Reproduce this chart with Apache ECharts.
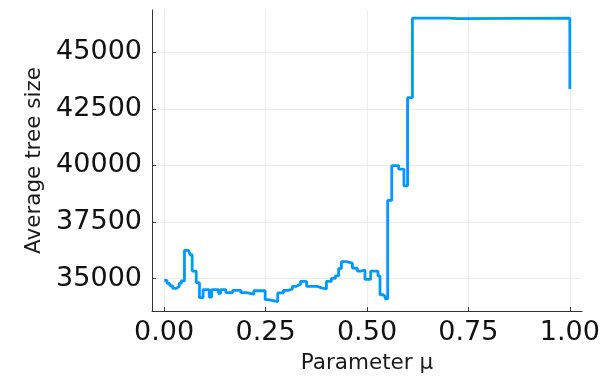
<!DOCTYPE html>
<html>
<head>
<meta charset="utf-8">
<style>
  html, body { margin: 0; padding: 0; background: #fff; }
  #chart { width: 612px; height: 379px; }
</style>
<script src="https://cdn.jsdelivr.net/npm/echarts@6/dist/echarts.min.js"></script>
</head>
<body>
<div id="chart"></div>
<script>
// Breakpoints of the step curve (parameter μ) and average tree size held from each point
const muValues = [
  0.000, 0.007, 0.014, 0.021, 0.030, 0.037, 0.042, 0.050, 0.060, 0.064,
  0.069, 0.079, 0.087, 0.096, 0.111, 0.117, 0.134, 0.139, 0.152, 0.169,
  0.189, 0.203, 0.221, 0.249, 0.257, 0.280, 0.294, 0.307, 0.316, 0.326,
  0.336, 0.351, 0.378, 0.388, 0.400, 0.412, 0.422, 0.430, 0.437, 0.449,
  0.464, 0.476, 0.484, 0.495, 0.509, 0.527, 0.532, 0.540, 0.545, 0.551,
  0.561, 0.578, 0.591, 0.600, 0.612, 0.700, 0.725, 1.000
];
const treeSize = [
  34930, 34795, 34686, 34578, 34665, 34795, 34904, 36254, 36167, 36058,
  35340, 34826, 34164, 34521, 34185, 34521, 34360, 34521, 34390, 34490,
  34390, 34316, 34469, 34077, 33989, 34373, 34490, 34547, 34665, 34752,
  34882, 34665, 34599, 34547, 34882, 35013, 35122, 35449, 35754, 35688,
  35470, 35340, 35383, 34969, 35340, 35122, 34294, 34207, 34111, 38454,
  39991, 39834, 39094, 42992, 46498, 46476, 46498, 43375
];
const xTicks = [0, 0.25, 0.5, 0.75, 1.0];
const yTicks = [35000, 37500, 40000, 42500, 45000];

const seriesData = muValues.map((m, i) => [m, treeSize[i]]);

const chart = echarts.init(document.getElementById('chart'), null, { renderer: 'canvas' });
const font = 'DejaVu Sans';
chart.setOption({
  animation: false,
  backgroundColor: '#ffffff',
  grid: { left: 152, right: 30, top: 10, bottom: 64, containLabel: false },
  xAxis: {
    type: 'value',
    min: -0.03,
    max: 1.03,
    name: 'Parameter μ',
    nameLocation: 'middle',
    nameGap: 41,
    nameTextStyle: { fontFamily: font, fontSize: 21.5, color: '#1a1a1a' },
    axisLine: { show: true, onZero: false, lineStyle: { color: '#333', width: 1 } },
    axisTick: { show: true, inside: true, length: 4, customValues: xTicks, lineStyle: { color: '#333' } },
    axisLabel: {
      customValues: xTicks,
      margin: 8,
      fontFamily: font, fontSize: 27, color: '#111',
      formatter: v => v.toFixed(2)
    },
    splitLine: { show: true, lineStyle: { color: '#ececec', width: 1 } }
  },
  yAxis: {
    type: 'value',
    min: 33576,
    max: 46860,
    name: 'Average tree size',
    nameLocation: 'middle',
    nameGap: 101,
    nameTextStyle: { fontFamily: font, fontSize: 21.5, color: '#1a1a1a' },
    axisLine: { show: true, onZero: false, lineStyle: { color: '#333', width: 1 } },
    axisTick: { show: true, inside: true, length: 4, customValues: yTicks, lineStyle: { color: '#333' } },
    axisLabel: {
      customValues: yTicks,
      margin: 10,
      fontFamily: font, fontSize: 27, color: '#111',
      formatter: v => String(Math.round(v))
    },
    splitLine: { show: true, lineStyle: { color: '#ececec', width: 1 } }
  },
  series: [{
    type: 'line',
    data: seriesData,
    step: 'end',
    showSymbol: false,
    lineStyle: { color: '#009AFA', width: 2.8 },
    itemStyle: { color: '#009AFA' }
  }]
});
</script>
</body>
</html>
